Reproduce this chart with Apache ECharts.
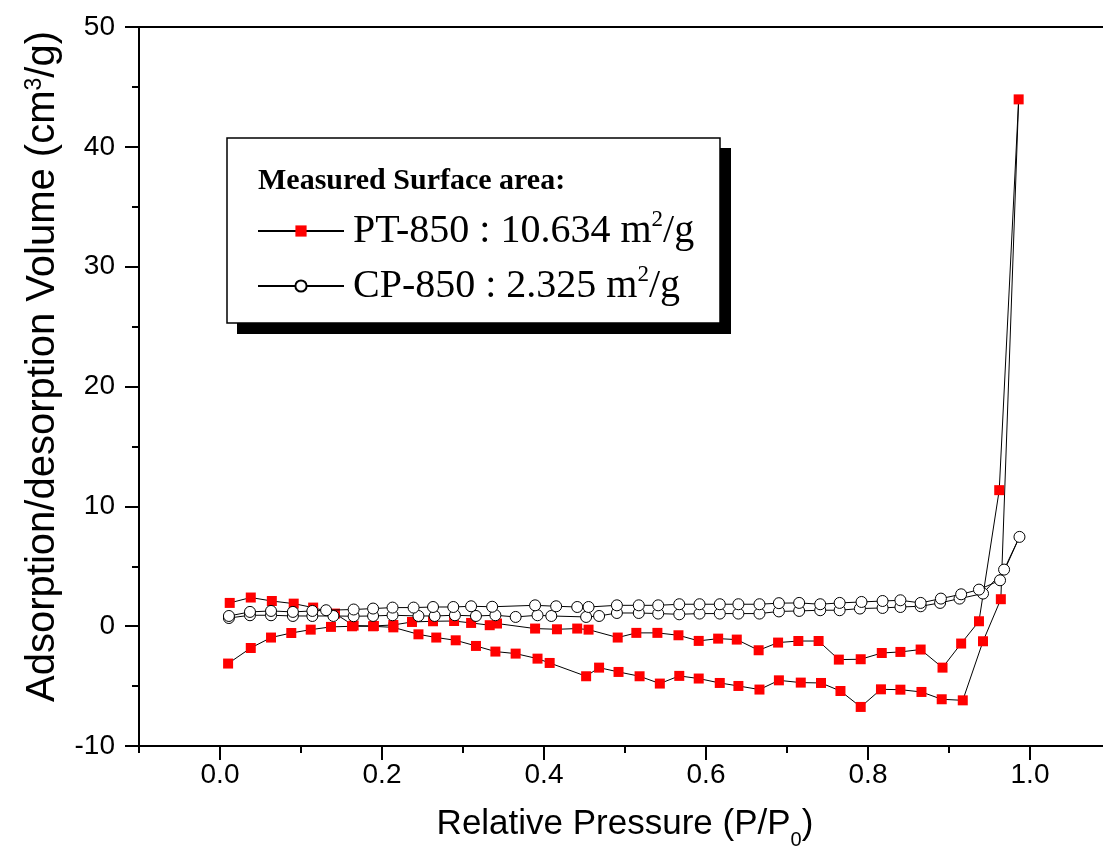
<!DOCTYPE html>
<html>
<head>
<meta charset="utf-8">
<script src="https://cdn.jsdelivr.net/npm/echarts@6/dist/echarts.min.js"></script>
<style>
html,body{margin:0;padding:0;background:#fff;}
#chart{width:1103px;height:863px;}
</style>
</head>
<body>
<div id="chart"></div>
<script>
// ---- data ----
// PT-850: adsorption branch (ascending P/P0)
const ptAdsX = [0.010,0.038,0.063,0.088,0.112,0.137,0.163,0.189,0.214,0.245,0.267,0.291,0.316,0.340,0.365,0.392,0.407,0.452,0.468,0.492,0.518,0.543,0.567,0.591,0.617,0.640,0.666,0.690,0.717,0.742,0.766,0.791,0.816,0.840,0.866,0.891,0.917,0.942,0.964,0.986];
const ptAdsY = [-3.12,-1.82,-0.95,-0.57,-0.29,-0.06,-0.01,-0.01,-0.10,-0.68,-0.95,-1.18,-1.65,-2.12,-2.29,-2.71,-3.07,-4.18,-3.46,-3.82,-4.18,-4.79,-4.15,-4.37,-4.74,-4.99,-5.29,-4.52,-4.71,-4.74,-5.41,-6.74,-5.27,-5.30,-5.49,-6.10,-6.19,-1.26,2.25,43.96];
// PT-850: desorption branch (descending P/P0)
const ptDesX = [0.962,0.937,0.915,0.892,0.865,0.840,0.817,0.791,0.764,0.739,0.714,0.689,0.665,0.638,0.615,0.591,0.566,0.540,0.514,0.491,0.455,0.441,0.416,0.389,0.342,0.333,0.310,0.289,0.263,0.237,0.214,0.190,0.165,0.142,0.115,0.091,0.064,0.038,0.012];
const ptDesY = [11.35,0.41,-1.45,-3.46,-1.95,-2.15,-2.24,-2.76,-2.79,-1.24,-1.24,-1.37,-2.01,-1.12,-1.04,-1.23,-0.76,-0.56,-0.56,-0.95,-0.29,-0.20,-0.26,-0.20,0.22,0.08,0.27,0.43,0.41,0.35,0.10,0.02,0.05,1.05,1.55,1.88,2.10,2.39,1.94];
// CP-850: adsorption branch
const cpAdsX = [0.011,0.037,0.063,0.090,0.114,0.140,0.165,0.189,0.213,0.245,0.265,0.290,0.316,0.340,0.365,0.392,0.409,0.452,0.468,0.490,0.517,0.541,0.567,0.592,0.617,0.640,0.666,0.690,0.715,0.741,0.765,0.790,0.818,0.840,0.865,0.889,0.913,0.942,0.968,0.987];
const cpAdsY = [0.68,0.91,0.91,0.85,0.85,0.85,0.83,0.85,0.91,0.85,0.85,0.91,0.85,0.91,0.77,0.91,0.85,0.77,0.85,1.10,1.10,1.05,0.99,1.05,1.05,1.05,1.05,1.23,1.27,1.33,1.33,1.47,1.52,1.60,1.66,1.94,2.30,2.72,4.72,7.45];
// CP-850: desorption branch
const cpDesX = [0.963,0.937,0.915,0.890,0.865,0.840,0.818,0.792,0.765,0.741,0.715,0.690,0.666,0.640,0.617,0.592,0.567,0.541,0.517,0.490,0.455,0.441,0.415,0.389,0.336,0.310,0.288,0.263,0.239,0.213,0.189,0.165,0.131,0.114,0.090,0.063,0.037,0.011];
const cpDesY = [3.83,3.05,2.66,2.30,1.94,2.16,2.10,2.02,1.94,1.83,1.94,1.92,1.83,1.83,1.83,1.83,1.83,1.74,1.74,1.74,1.60,1.60,1.66,1.74,1.62,1.66,1.60,1.60,1.55,1.55,1.47,1.39,1.33,1.27,1.19,1.27,1.19,0.85];

const seriesNames = ['PT-850', 'CP-850'];
const legendLabels = {'PT-850': 'PT-850 : 10.634 m{sup|2}/g', 'CP-850': 'CP-850 : 2.325 m{sup|2}/g'};
const legendTitle = 'Measured Surface area:';
const xMajorTicks = [0.0, 0.2, 0.4, 0.6, 0.8, 1.0];
const xMinorTicks = [-0.1, 0.1, 0.3, 0.5, 0.7, 0.9];
const xTitle = 'Relative Pressure (P/P{sub|0})';
const yTitle = 'Adsorption/desorption Volume (cm{sup|3}/g)';

function zip(xs, ys) { return xs.map((x, i) => [x, ys[i]]); }
const ptData = zip(ptAdsX, ptAdsY).concat(zip(ptDesX, ptDesY));
const cpData = zip(cpAdsX, cpAdsY).concat(zip(cpDesX, cpDesY));

const SANS = 'Liberation Sans, Arial, sans-serif';
const SERIF = 'Liberation Serif, Times New Roman, serif';

const chart = echarts.init(document.getElementById('chart'), null, {renderer: 'canvas'});
chart.setOption({
  animation: false,
  backgroundColor: '#fff',
  grid: {left: 139, top: 27, right: -8, bottom: 117, show: true, borderColor: '#000', borderWidth: 2, backgroundColor: 'transparent', containLabel: false, outerBoundsMode: 'none'},
  xAxis: [{
    type: 'value', min: -0.1, max: 1.1, position: 'bottom',
    axisLine: {show: true, onZero: false, lineStyle: {color: '#000', width: 2}},
    axisTick: {show: true, customValues: xMajorTicks, length: 14, lineStyle: {color: '#000', width: 2}},
    axisLabel: {customValues: xMajorTicks, formatter: v => v.toFixed(1), fontSize: 28, color: '#000', fontFamily: SANS, margin: 15},
    splitLine: {show: false},
    name: xTitle, nameLocation: 'middle', nameGap: 61,
    nameTextStyle: {fontSize: 35, color: '#000', fontFamily: SANS,
      rich: {sub: {fontSize: 20, fontFamily: SANS, color: '#000', verticalAlign: 'bottom', padding: [0, 0, -8, 0]}}}
  }, {
    type: 'value', min: -0.1, max: 1.1, position: 'bottom',
    axisLine: {show: false, onZero: false},
    axisTick: {show: true, customValues: xMinorTicks, length: 7, lineStyle: {color: '#000', width: 2}},
    axisLabel: {show: false},
    splitLine: {show: false}
  }],
  yAxis: {
    type: 'value', min: -10, max: 50, interval: 10,
    axisLine: {show: true, onZero: false, lineStyle: {color: '#000', width: 2}},
    axisTick: {show: true, length: 14, lineStyle: {color: '#000', width: 2}},
    minorTick: {show: true, splitNumber: 2, length: 7, lineStyle: {color: '#000', width: 2}},
    axisLabel: {fontSize: 28, color: '#000', fontFamily: SANS, margin: 24},
    splitLine: {show: false}, minorSplitLine: {show: false},
    name: yTitle, nameLocation: 'middle', nameGap: 76,
    nameTextStyle: {fontSize: 40, color: '#000', fontFamily: SANS, padding: [0, 0, 0, 40],
      rich: {sup: {fontSize: 23, fontFamily: SANS, color: '#000', verticalAlign: 'top'}}}
  },
  legend: {
    orient: 'vertical', left: 257, top: 208, padding: 0,
    itemWidth: 86, itemHeight: 14, itemGap: 9,
    data: seriesNames,
    formatter: name => legendLabels[name],
    textStyle: {fontFamily: SERIF, fontSize: 40, color: '#000', lineHeight: 46, padding: [0, 0, 0, 4],
      rich: {sup: {fontFamily: SERIF, fontSize: 23, color: '#000', verticalAlign: 'top'}}},
    z: 10
  },
  graphic: [
    {type: 'rect', z: 5, shape: {x: 237, y: 148, width: 494, height: 186}, style: {fill: '#000'}},
    {type: 'rect', z: 6, shape: {x: 227, y: 138, width: 493, height: 185}, style: {fill: '#fff', stroke: '#000', lineWidth: 1.5}},
    {type: 'text', z: 7, x: 258, y: 181, style: {text: legendTitle, font: 'bold 30px ' + SERIF, fill: '#000', verticalAlign: 'middle'}}
  ],
  series: [{
    name: 'PT-850', type: 'line', data: ptData, xAxisIndex: 0,
    symbol: 'rect', symbolSize: 10, showAllSymbol: true,
    itemStyle: {color: '#ff0000'},
    lineStyle: {color: '#000', width: 1},
    z: 2
  }, {
    name: 'CP-850', type: 'line', data: cpData, xAxisIndex: 0,
    symbol: 'circle', symbolSize: 11, showAllSymbol: true,
    itemStyle: {color: '#fff', borderColor: '#000', borderWidth: 1},
    lineStyle: {color: '#000', width: 1},
    z: 3
  }]
});
</script>
</body>
</html>
